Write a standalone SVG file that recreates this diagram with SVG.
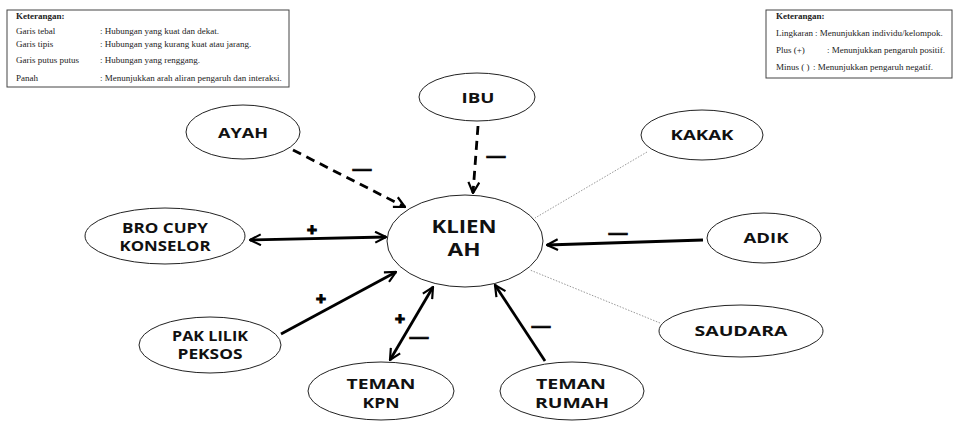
<svg xmlns="http://www.w3.org/2000/svg" width="956" height="421" viewBox="0 0 956 421">
<defs>
<marker id="arr" viewBox="0 0 12 12" refX="11" refY="6" markerWidth="13" markerHeight="13" markerUnits="userSpaceOnUse" orient="auto-start-reverse">
<path d="M1,1 L11,6 L1,11" fill="none" stroke="#000" stroke-width="2"/>
</marker>
<style>
.node ellipse{fill:#fff;stroke:#222;stroke-width:1}
.lbl{font-family:"Open Sans","Liberation Sans",sans-serif;font-weight:bold;font-size:14.5px;fill:#111;text-anchor:middle}
.big{font-size:18px}
.leg{font-family:"Liberation Serif",serif;font-size:9px;fill:#222}
.legb{font-weight:bold}
.box{fill:#fff;stroke:#444;stroke-width:1}
.thick{stroke:#000;stroke-width:2.8;fill:none}
.dash{stroke:#000;stroke-width:2.8;fill:none;stroke-dasharray:9 6}
.thin{stroke:#999;stroke-width:1;fill:none;stroke-dasharray:1.5 1.5}
.sign{font-family:"Liberation Sans",sans-serif;font-weight:bold;fill:#000;text-anchor:middle;stroke:#000}
.plus{font-size:17px;stroke-width:1.2}
.minus{font-size:19px;stroke-width:0.6}
</style>
</defs>
<rect width="956" height="421" fill="#fff"/>

<g id="legend-left">
<rect class="box" x="7" y="10" width="282" height="77"/>
<text class="leg legb" x="16" y="19">Keterangan:</text>
<text class="leg" x="16" y="34">Garis tebal</text>
<text class="leg" x="100" y="34">: Hubungan yang kuat dan dekat.</text>
<text class="leg" x="16" y="47">Garis tipis</text>
<text class="leg" x="100" y="47">: Hubungan yang kurang kuat atau jarang.</text>
<text class="leg" x="16" y="63">Garis putus putus</text>
<text class="leg" x="100" y="63">: Hubungan yang renggang.</text>
<text class="leg" x="16" y="81">Panah</text>
<text class="leg" x="100" y="81">: Menunjukkan arah aliran pengaruh dan interaksi.</text>
</g>

<g id="legend-right">
<rect class="box" x="766" y="10" width="186" height="68"/>
<text class="leg legb" x="776" y="19">Keterangan:</text>
<text class="leg" x="776" y="36">Lingkaran</text>
<text class="leg" x="815" y="36">: Menunjukkan individu/kelompok.</text>
<text class="leg" x="776" y="53">Plus (+)</text>
<text class="leg" x="827" y="53">: Menunjukkan pengaruh positif.</text>
<text class="leg" x="776" y="70">Minus ( )</text>
<text class="leg" x="813" y="70">: Menunjukkan pengaruh negatif.</text>
</g>

<g id="connectors">
<line class="dash" x1="293" y1="150" x2="405" y2="207" marker-end="url(#arr)"/>
<line class="dash" x1="478" y1="126" x2="473" y2="193" marker-end="url(#arr)"/>
<line class="thick" x1="250" y1="240" x2="386" y2="237" marker-start="url(#arr)" marker-end="url(#arr)"/>
<line class="thick" x1="281" y1="334" x2="396" y2="272" marker-end="url(#arr)"/>
<line class="thick" x1="390" y1="360" x2="433" y2="287" marker-start="url(#arr)" marker-end="url(#arr)"/>
<line class="thick" x1="545" y1="361" x2="495" y2="285" marker-end="url(#arr)"/>
<line class="thick" x1="703" y1="240" x2="547" y2="245" marker-end="url(#arr)"/>
<line class="thin" x1="647" y1="152" x2="535" y2="218"/>
<line class="thin" x1="660" y1="323" x2="530" y2="270"/>
<text class="sign minus" x="362" y="175">—</text>
<text class="sign minus" x="496" y="162">—</text>
<text class="sign plus" x="312" y="235">+</text>
<text class="sign plus" x="321" y="304">+</text>
<text class="sign plus" x="400" y="324">+</text>
<text class="sign minus" x="419" y="343">—</text>
<text class="sign minus" x="541" y="332">—</text>
<text class="sign minus" x="618" y="239">—</text>
</g>

<g id="node-ibu" class="node">
<ellipse cx="477" cy="97" rx="58" ry="24"/>
<text class="lbl" x="478" y="103" textLength="33" lengthAdjust="spacingAndGlyphs">IBU</text>
</g>
<g id="node-ayah" class="node">
<ellipse cx="243" cy="132" rx="57" ry="27"/>
<text class="lbl" x="243" y="138" textLength="50" lengthAdjust="spacingAndGlyphs">AYAH</text>
</g>
<g id="node-kakak" class="node">
<ellipse cx="702" cy="135" rx="61" ry="25"/>
<text class="lbl" x="702" y="140" textLength="63" lengthAdjust="spacingAndGlyphs">KAKAK</text>
</g>
<g id="node-klien" class="node">
<ellipse cx="465" cy="241" rx="78" ry="46"/>
<text class="lbl big" x="464" y="233" textLength="65" lengthAdjust="spacingAndGlyphs">KLIEN</text>
<text class="lbl big" x="464" y="256" textLength="33" lengthAdjust="spacingAndGlyphs">AH</text>
</g>
<g id="node-adik" class="node">
<ellipse cx="764" cy="238" rx="57" ry="25"/>
<text class="lbl" x="766" y="243" textLength="45" lengthAdjust="spacingAndGlyphs">ADIK</text>
</g>
<g id="node-bro" class="node">
<ellipse cx="165" cy="236" rx="80" ry="28"/>
<text class="lbl" x="165" y="233" textLength="86" lengthAdjust="spacingAndGlyphs">BRO CUPY</text>
<text class="lbl" x="165" y="251" textLength="91" lengthAdjust="spacingAndGlyphs">KONSELOR</text>
</g>
<g id="node-pak" class="node">
<ellipse cx="210" cy="345" rx="71" ry="28"/>
<text class="lbl" x="210" y="341" textLength="76" lengthAdjust="spacingAndGlyphs">PAK LILIK</text>
<text class="lbl" x="210" y="359" textLength="65" lengthAdjust="spacingAndGlyphs">PEKSOS</text>
</g>
<g id="node-saudara" class="node">
<ellipse cx="741" cy="331" rx="82" ry="26"/>
<text class="lbl" x="741" y="336" textLength="93" lengthAdjust="spacingAndGlyphs">SAUDARA</text>
</g>
<g id="node-teman-kpn" class="node">
<ellipse cx="381" cy="391" rx="73" ry="29"/>
<text class="lbl" x="381" y="389" textLength="69" lengthAdjust="spacingAndGlyphs">TEMAN</text>
<text class="lbl" x="381" y="408" textLength="37" lengthAdjust="spacingAndGlyphs">KPN</text>
</g>
<g id="node-teman-rumah" class="node">
<ellipse cx="572" cy="391" rx="72" ry="29"/>
<text class="lbl" x="571" y="389" textLength="70" lengthAdjust="spacingAndGlyphs">TEMAN</text>
<text class="lbl" x="572" y="408" textLength="74" lengthAdjust="spacingAndGlyphs">RUMAH</text>
</g>
</svg>
